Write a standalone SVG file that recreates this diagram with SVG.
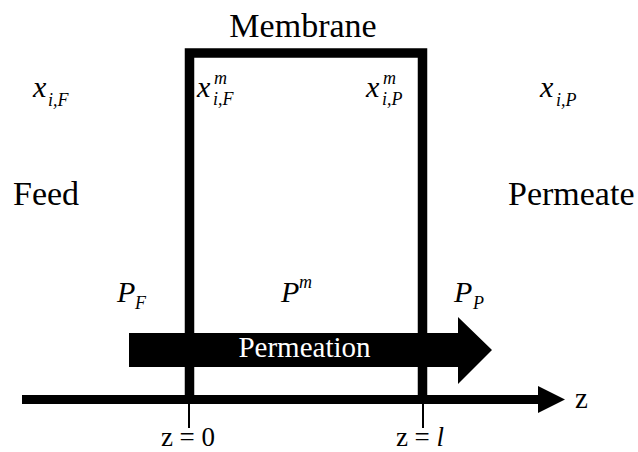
<svg xmlns="http://www.w3.org/2000/svg" width="638" height="452" viewBox="0 0 638 452">
<style>
text{font-family:'Liberation Serif','Times New Roman','DejaVu Serif',serif;fill:#000}
.m{font-style:italic}
.big{font-size:34px}
.mm{font-size:30px}
.s{font-size:18px}
</style>
<rect width="638" height="452" fill="#fff"/>
<g id="permeation-arrow">
<polygon points="129,333 458,333 458,317 492,350 458,384 458,367 129,367" fill="#000"/>
<text x="304.5" y="357" font-size="29" text-anchor="middle" style="fill:#fff">Permeation</text>
</g>
<g id="membrane">
<path d="M189.5,395 V53 H422.5 V395" fill="none" stroke="#000" stroke-width="9.5" stroke-linejoin="miter"/>
<text class="big" x="303" y="37" text-anchor="middle">Membrane</text>
</g>
<g id="connectors">
<line x1="22" y1="399.5" x2="540" y2="399.5" stroke="#000" stroke-width="9"/>
<polygon points="538,386 565,399.5 538,413" fill="#000"/>
<line x1="189" y1="404" x2="189" y2="428" stroke="#000" stroke-width="2"/>
<line x1="423" y1="404" x2="423" y2="428" stroke="#000" stroke-width="2"/>
</g>
<g id="feed">
<text class="big" x="13" y="205">Feed</text>
<text class="m mm" x="33" y="97">x</text>
<text class="m s" x="48" y="106">i,F</text>
<text class="m mm" x="117" y="302">P</text>
<text class="m s" x="135" y="309">F</text>
</g>
<g id="membrane-labels">
<text class="m mm" x="197" y="97">x</text>
<text class="m s" x="214" y="84">m</text>
<text class="m s" x="213" y="105">i,F</text>
<text class="m mm" x="366" y="97">x</text>
<text class="m s" x="383" y="84">m</text>
<text class="m s" x="382" y="105">i,P</text>
<text class="m mm" x="281" y="302">P</text>
<text class="m s" x="299" y="288">m</text>
</g>
<g id="permeate">
<text class="big" x="508" y="205">Permeate</text>
<text class="m mm" x="540" y="97">x</text>
<text class="m s" x="556" y="106">i,P</text>
<text class="m mm" x="454" y="302">P</text>
<text class="m s" x="473" y="309">P</text>
</g>
<g id="axis-labels">
<text x="575" y="408" font-size="29">z</text>
<text x="188" y="446" font-size="27" text-anchor="middle">z = 0</text>
<text x="420" y="446" font-size="27" text-anchor="middle">z = <tspan font-style="italic">l</tspan></text>
</g>
</svg>
